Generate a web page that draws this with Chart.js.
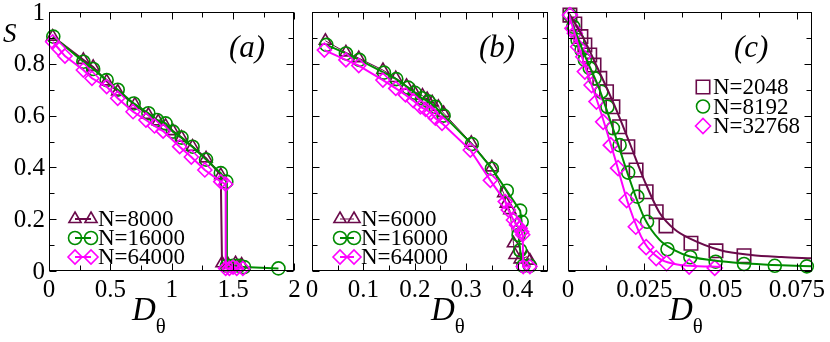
<!DOCTYPE html>
<html>
<head>
<meta charset="utf-8">
<script src="https://cdn.jsdelivr.net/npm/chart.js@4.4.1/dist/chart.umd.min.js"></script>
<style>
body { margin: 0; background: #fff; }
#figure { position: relative; width: 830px; height: 342px; background: #fff; }
canvas { position: absolute; top: 0; }
</style>
</head>
<body>
<div id="figure">
<canvas id="panneauA" width="303" height="342" style="left:0px"></canvas>
<canvas id="panneauB" width="254" height="342" style="left:303px"></canvas>
<canvas id="panneauC" width="273" height="342" style="left:557px"></canvas>
</div>
<script>
// Données : D_theta et S pour chaque taille N

// (a)
const dA8000 = [0.03, 0.28, 0.36, 0.47, 0.56, 0.70, 0.81, 0.89, 0.95, 1.01, 1.08, 1.17, 1.28, 1.40, 1.41, 1.46, 1.52, 1.57];
const sA8000 = [0.905, 0.815, 0.788, 0.732, 0.693, 0.642, 0.603, 0.578, 0.56, 0.54, 0.515, 0.48, 0.435, 0.37, 0.03, 0.025, 0.03, 0.025];
const dA16000 = [0.035, 0.28, 0.36, 0.47, 0.56, 0.69, 0.81, 0.88, 0.95, 1.01, 1.08, 1.17, 1.28, 1.40, 1.445, 1.45, 1.50, 1.55, 1.59, 1.87];
const sA16000 = [0.905, 0.808, 0.78, 0.737, 0.70, 0.647, 0.609, 0.583, 0.57, 0.538, 0.515, 0.48, 0.43, 0.378, 0.345, 0.02, 0.02, 0.02, 0.015, 0.01];
const dA64000 = [0.03, 0.076, 0.13, 0.28, 0.35, 0.47, 0.56, 0.685, 0.79, 0.86, 0.93, 1.065, 1.16, 1.27, 1.40, 1.44, 1.44, 1.47, 1.50, 1.53, 1.58];
const sA64000 = [0.885, 0.86, 0.83, 0.776, 0.744, 0.712, 0.667, 0.615, 0.583, 0.56, 0.54, 0.48, 0.44, 0.39, 0.345, 0.335, 0.01, 0.01, 0.015, 0.01, 0.01];

// (b)
const dB6000 = [0.026, 0.066, 0.091, 0.138, 0.163, 0.184, 0.198, 0.215, 0.224, 0.234, 0.246, 0.256, 0.31, 0.35, 0.373, 0.378, 0.385, 0.392, 0.395, 0.405, 0.418, 0.424];
const sB6000 = [0.889, 0.844, 0.822, 0.776, 0.745, 0.715, 0.694, 0.677, 0.664, 0.651, 0.634, 0.61, 0.495, 0.40, 0.30, 0.26, 0.235, 0.107, 0.062, 0.045, 0.055, 0.04];
const dB16000 = [0.028, 0.066, 0.092, 0.14, 0.164, 0.187, 0.20, 0.214, 0.227, 0.24, 0.256, 0.311, 0.35, 0.379, 0.405, 0.408, 0.402, 0.405, 0.411, 0.424];
const sB16000 = [0.873, 0.84, 0.815, 0.766, 0.741, 0.708, 0.688, 0.667, 0.654, 0.634, 0.60, 0.49, 0.395, 0.31, 0.233, 0.19, 0.139, 0.08, 0.02, 0.02];
const dB64000 = [0.024, 0.066, 0.091, 0.138, 0.163, 0.182, 0.197, 0.211, 0.221, 0.231, 0.24, 0.253, 0.308, 0.347, 0.376, 0.382, 0.392, 0.398, 0.405, 0.408, 0.41, 0.411, 0.424];
const sB64000 = [0.853, 0.815, 0.793, 0.737, 0.705, 0.68, 0.658, 0.634, 0.624, 0.611, 0.59, 0.57, 0.467, 0.35, 0.268, 0.236, 0.197, 0.178, 0.165, 0.152, 0.14, 0.017, 0.017];

// (c) symboles
const dC2048 = [0.0006, 0.0022, 0.0042, 0.0055, 0.0071, 0.0085, 0.0104, 0.0126, 0.0147, 0.0169, 0.0196, 0.0223, 0.0256, 0.0289, 0.0321, 0.0403, 0.0485, 0.0577];
const sC2048 = [0.988, 0.954, 0.905, 0.873, 0.834, 0.795, 0.744, 0.692, 0.634, 0.557, 0.48, 0.39, 0.306, 0.229, 0.174, 0.107, 0.078, 0.059];
const dC8192 = [0.0006, 0.0017, 0.0031, 0.0044, 0.0055, 0.0071, 0.0087, 0.0109, 0.0129, 0.0147, 0.0169, 0.0197, 0.0227, 0.0259, 0.0326, 0.0401, 0.0484, 0.0577, 0.0678, 0.0783];
const sC8192 = [0.988, 0.943, 0.892, 0.853, 0.815, 0.783, 0.744, 0.692, 0.634, 0.551, 0.486, 0.38, 0.287, 0.19, 0.084, 0.053, 0.036, 0.027, 0.02, 0.018];
const dC32768 = [0.0006, 0.0014, 0.0022, 0.0033, 0.005, 0.0055, 0.0077, 0.0093, 0.0115, 0.014, 0.0164, 0.0192, 0.0222, 0.0256, 0.0289, 0.0323, 0.0397, 0.0481];
const sC32768 = [0.988, 0.937, 0.918, 0.866, 0.827, 0.77, 0.718, 0.654, 0.576, 0.486, 0.397, 0.274, 0.171, 0.092, 0.05, 0.03, 0.017, 0.012];

// (c) courbes lissées
const dLisse2048 = [0, 0.005, 0.01, 0.015, 0.02, 0.025, 0.03, 0.035, 0.04, 0.05, 0.06, 0.07, 0.08];
const sLisse2048 = [1.0, 0.9, 0.775, 0.645, 0.50, 0.35, 0.225, 0.16, 0.125, 0.08, 0.062, 0.054, 0.049];
const dLisse8192 = [0, 0.005, 0.01, 0.015, 0.02, 0.025, 0.03, 0.035, 0.04, 0.05, 0.06, 0.07, 0.08];
const sLisse8192 = [1.0, 0.845, 0.71, 0.54, 0.36, 0.205, 0.12, 0.08, 0.056, 0.038, 0.028, 0.022, 0.018];
const dLisse32768 = [0, 0.005, 0.01, 0.015, 0.02, 0.025, 0.03, 0.035, 0.04, 0.05];
const sLisse32768 = [1.0, 0.81, 0.64, 0.45, 0.25, 0.11, 0.048, 0.027, 0.02, 0.016];

// Graduations
const ticksXA = [0, 0.5, 1, 1.5, 2];
const etiquettesXA = ['0', '0.5', '1', '1.5', '2'];
const mineursXA = [0.25, 0.75, 1.25, 1.75];
const ticksXB = [0, 0.1, 0.2, 0.3, 0.4];
const etiquettesXB = ['0', '0.1', '0.2', '0.3', '0.4'];
const mineursXB = [0.05, 0.15, 0.25, 0.35, 0.45];
const ticksXC = [0, 0.025, 0.05, 0.075];
const etiquettesXC = ['0', '0.025', '0.05', '0.075'];
const mineursXC = [0.0125, 0.0375, 0.0625];
const ticksY = [0, 0.2, 0.4, 0.6, 0.8, 1];
const etiquettesY = ['0', '0.2', '0.4', '0.6', '0.8', '1'];
const mineursY = [0.1, 0.3, 0.5, 0.7, 0.9];

const police = "'Liberation Serif', serif";
const marron = '#6a0a4a';
const vert = '#008c00';
const magenta = '#ff00ff';

// Associe deux tableaux en points {x, y}
function points(xs, ys) {
    return xs.map((x, i) => ({x: x, y: ys[i]}));
}

// Série avec symboles creux
function serie(label, xs, ys, couleur, symbole, rayon, epaisseur, ordre, ligne) {
    return {
        label: label,
        data: points(xs, ys),
        showLine: ligne,
        borderColor: couleur,
        borderWidth: epaisseur,
        pointStyle: symbole,
        pointRadius: rayon,
        pointBorderColor: couleur,
        pointBackgroundColor: 'rgba(0,0,0,0)',
        pointBorderWidth: 1.6,
        clip: false,
        order: ordre
    };
}

// Courbe sans symbole (panneau c)
function courbe(xs, ys, couleur, ordre) {
    return {
        label: '',
        data: points(xs, ys),
        showLine: true,
        borderColor: couleur,
        borderWidth: 2,
        pointRadius: 0,
        cubicInterpolationMode: 'monotone',
        clip: false,
        order: ordre
    };
}

function dessinerSymbole(ctx, ds, x, y) {
    ctx.save();
    ctx.strokeStyle = ds.pointBorderColor;
    ctx.fillStyle = 'rgba(0,0,0,0)';
    ctx.lineWidth = ds.pointBorderWidth;
    Chart.helpers.drawPoint(ctx, {pointStyle: ds.pointStyle, rotation: 0, radius: ds.pointRadius, borderWidth: ds.pointBorderWidth}, x, y);
    ctx.restore();
}

// Cadre, graduations intérieures, étiquettes, textes et légende
const decor = {
    id: 'decor',
    afterDatasetsDraw(chart, args, opts) {
        const ctx = chart.ctx;
        const a = chart.chartArea;
        const sx = chart.scales.x;
        const sy = chart.scales.y;
        const g = Math.round(a.left) + 0.5, d = Math.round(a.right) - 0.5;
        const h = Math.round(a.top) + 0.5, b = Math.round(a.bottom) - 0.5;
        ctx.save();
        ctx.strokeStyle = '#000';
        ctx.lineWidth = 1;
        ctx.strokeRect(g, h, d - g, b - h);
        ctx.beginPath();
        const gradX = (vals, lg) => vals.forEach(v => {
            const px = Math.round(sx.getPixelForValue(v)) + 0.5;
            ctx.moveTo(px, b); ctx.lineTo(px, b - lg);
            ctx.moveTo(px, h); ctx.lineTo(px, h + lg);
        });
        const gradY = (vals, lg) => vals.forEach(v => {
            const py = Math.round(sy.getPixelForValue(v)) + 0.5;
            ctx.moveTo(g, py); ctx.lineTo(g + lg, py);
            ctx.moveTo(d, py); ctx.lineTo(d - lg, py);
        });
        gradX(opts.majeursX, 7);
        gradX(opts.mineursX, 5);
        gradY(ticksY, 7);
        gradY(mineursY, 5);
        ctx.stroke();

        // Étiquettes des graduations
        ctx.fillStyle = '#000';
        ctx.font = '25px ' + police;
        ctx.textBaseline = 'middle';
        ctx.textAlign = 'center';
        opts.majeursX.forEach((v, i) => {
            ctx.fillText(opts.etiquettesX[i], sx.getPixelForValue(v), 290);
        });
        if (opts.titreY) {
            ctx.textAlign = 'right';
            ticksY.forEach((v, i) => {
                ctx.fillText(etiquettesY[i], 45, sy.getPixelForValue(v) + 1);
            });
        }

        // Textes
        ctx.textBaseline = 'alphabetic';
        ctx.textAlign = 'left';
        ctx.font = 'italic 31px ' + police;
        ctx.fillText(opts.lettre, opts.lettreX, opts.lettreY);
        ctx.font = 'italic 33px ' + police;
        ctx.fillText('D', opts.dX, 320);
        const largeurD = ctx.measureText('D').width;
        ctx.font = '21px ' + police;
        ctx.fillText('θ', opts.dX + largeurD, 333);
        if (opts.titreY) {
            ctx.font = 'italic 27px ' + police;
            ctx.fillText('S', 3, 42);
        }

        // Légende
        const leg = opts.legende;
        ctx.font = '23px ' + police;
        ctx.textBaseline = 'middle';
        let y = leg.y;
        chart.data.datasets.forEach(ds => {
            if (!ds.label) return;
            if (leg.double) {
                ctx.strokeStyle = ds.borderColor;
                ctx.lineWidth = ds.borderWidth;
                ctx.beginPath();
                ctx.moveTo(leg.x1, y); ctx.lineTo(leg.x2, y);
                ctx.stroke();
                dessinerSymbole(ctx, ds, leg.x1, y);
                dessinerSymbole(ctx, ds, leg.x2, y);
            } else {
                dessinerSymbole(ctx, ds, leg.x1, y);
            }
            ctx.fillStyle = '#000';
            ctx.fillText(ds.label, leg.xTexte, y + 1);
            y += leg.pas;
        });
        ctx.restore();
    }
};

function axeX(min, max) {
    return {
        type: 'linear', position: 'bottom', min: min, max: max,
        afterFit: s => { s.height = 71; },
        grid: {display: false, drawTicks: false},
        border: {display: false},
        ticks: {display: false}
    };
}

function axeY(largeur) {
    return {
        type: 'linear', position: 'left', min: 0, max: 1,
        afterFit: s => { s.width = largeur; },
        grid: {display: false, drawTicks: false},
        border: {display: false},
        ticks: {display: false}
    };
}

function creerPanneau(id, datasets, xMax, largeurY, padding, optsDecor) {
    return new Chart(document.getElementById(id), {
        type: 'scatter',
        data: {datasets: datasets},
        options: {
            responsive: false,
            animation: false,
            devicePixelRatio: 1,
            layout: {padding: padding},
            scales: {x: axeX(0, xMax), y: axeY(largeurY)},
            plugins: {legend: {display: false}, tooltip: {enabled: false}, decor: optsDecor}
        },
        plugins: [decor]
    });
}

function dessinerTout() {
    creerPanneau('panneauA', [
        serie('N=8000', dA8000, sA8000, marron, 'triangle', 7, 2, 3, true),
        serie('N=16000', dA16000, sA16000, vert, 'circle', 6.5, 2, 2, true),
        serie('N=64000', dA64000, sA64000, magenta, 'rectRot', 7, 2, 1, true)
    ], 2, 49, {left: 0, right: 8, top: 12, bottom: 0}, {
        majeursX: ticksXA, etiquettesX: etiquettesXA, mineursX: mineursXA,
        lettre: '(a)', lettreX: 229, lettreY: 57, dX: 132, titreY: true,
        legende: {double: true, x1: 75, x2: 91, xTexte: 98, y: 219, pas: 19}
    });

    creerPanneau('panneauB', [
        serie('N=6000', dB6000, sB6000, marron, 'triangle', 7, 1, 3, true),
        serie('N=16000', dB16000, sB16000, vert, 'circle', 6.5, 2, 2, true),
        serie('N=64000', dB64000, sB64000, magenta, 'rectRot', 7, 2, 1, true)
    ], 0.46, 0, {left: 9, right: 8, top: 12, bottom: 0}, {
        majeursX: ticksXB, etiquettesX: etiquettesXB, mineursX: mineursXB,
        lettre: '(b)', lettreX: 176, lettreY: 57, dX: 128, titreY: false,
        legende: {double: true, x1: 37, x2: 51, xTexte: 58, y: 219, pas: 19}
    });

    creerPanneau('panneauC', [
        serie('N=2048', dC2048, sC2048, marron, 'rect', 9.5, 2, 6, false),
        serie('N=8192', dC8192, sC8192, vert, 'circle', 6.5, 2, 5, false),
        serie('N=32768', dC32768, sC32768, magenta, 'rectRot', 7.5, 2, 4, false),
        courbe(dLisse2048, sLisse2048, marron, 3),
        courbe(dLisse8192, sLisse8192, vert, 2),
        courbe(dLisse32768, sLisse32768, magenta, 1)
    ], 0.08, 0, {left: 9, right: 18, top: 12, bottom: 0}, {
        majeursX: ticksXC, etiquettesX: etiquettesXC, mineursX: mineursXC,
        lettre: '(c)', lettreX: 177, lettreY: 57, dX: 112, titreY: false,
        legende: {double: false, x1: 146, x2: 146, xTexte: 156, y: 87, pas: 19.5}
    });
}

// Attend la police avant de dessiner
document.fonts.load("25px 'Liberation Serif'").then(dessinerTout, dessinerTout);
</script>
</body>
</html>
